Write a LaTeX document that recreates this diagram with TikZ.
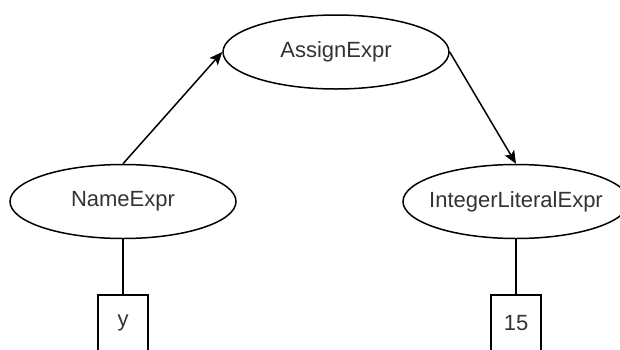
\documentclass[tikz,border=0pt]{standalone}
\usepackage{fontspec}
\setmainfont{Liberation Sans}
\usetikzlibrary{positioning,arrows.meta,shapes.geometric}

\begin{document}
\begin{tikzpicture}[x=1pt, y=1pt, on grid,
    main/.style = {draw, ellipse, line width=1.5pt, minimum width=226pt, minimum height=74pt, inner xsep=-20pt, inner ysep=0pt, text=black!80, font=\fontsize{22}{26}\selectfont},
    leaf/.style = {draw, rectangle, line width=1.5pt, minimum width=50pt, minimum height=56pt, inner sep=0pt, text=black!80, font=\fontsize{22}{26}\selectfont}]
        \clip (0,0) rectangle (620,-349);
        \node[main] (assign) at (336,-52) {AssignExpr};
        \node[main] (name) [below left=149.5pt and 213pt of assign] {NameExpr};
        \node[main] (int) [below right=149.5pt and 180pt of assign] {IntegerLiteralExpr};
        \node[leaf] (y) [below=121.5pt of name] {y};
        \node[leaf] (15) [below=121.5pt of int] {15};
        \draw[-{Stealth[length=13pt, width=11pt, inset=3pt]}, line width=1.5pt] (name.north) -- (assign.west);
        \draw[-{Stealth[length=13pt, width=11pt, inset=3pt]}, line width=1.5pt] (assign.east) -- (int.north);
        \draw[line width=1.5pt] (name) -- (y);
        \draw[line width=1.5pt] (int) -- (15);
    \end{tikzpicture}
\end{document}
